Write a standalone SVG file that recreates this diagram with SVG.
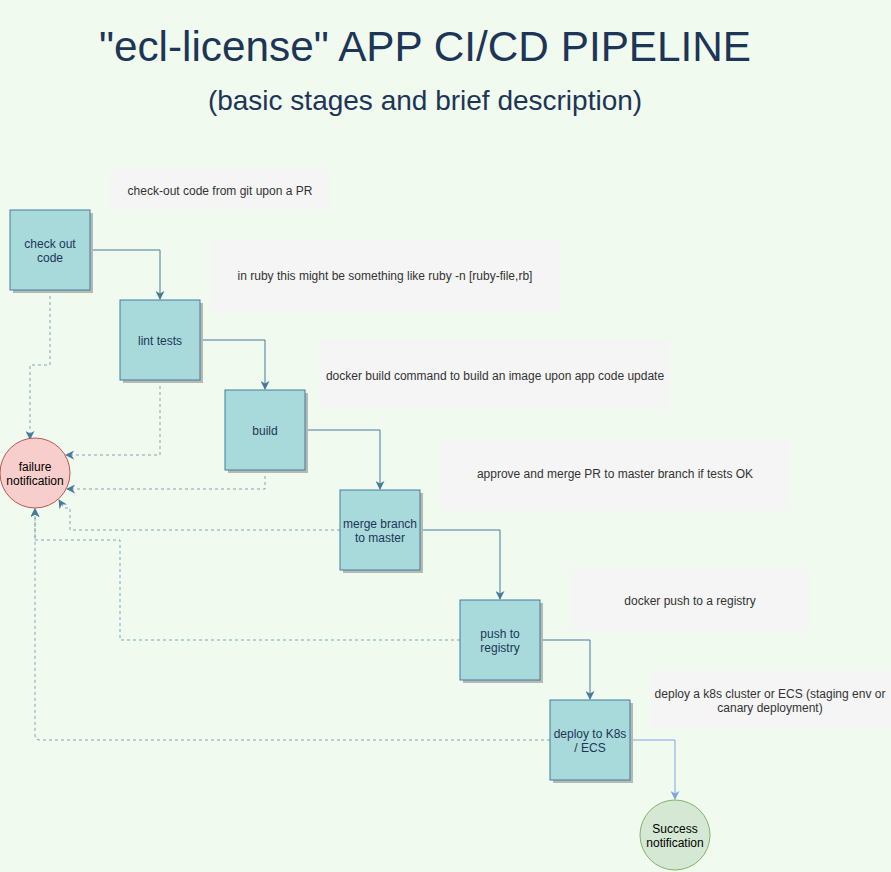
<svg xmlns="http://www.w3.org/2000/svg" width="891" height="872" viewBox="0 0 891 872">
<defs>
<style>
.t{font-family:"Liberation Sans",Arial,sans-serif;fill:#1D3557;text-anchor:middle}
.note rect{fill:#F5F5F5}
.note text{font-family:"Liberation Sans",Arial,sans-serif;font-size:12px;fill:#333333;text-anchor:middle}
.box .sh{fill:#B3B9B3}
.box .bx{fill:#A8DADC;stroke:#457B9D;stroke-width:1}
.box text{font-family:"Liberation Sans",Arial,sans-serif;font-size:12px;fill:#1D3557;text-anchor:middle}
.solid{fill:none;stroke:#457B9D;stroke-width:1}
.dash{fill:none;stroke:#457B9D;stroke-opacity:0.65;stroke-width:1;stroke-dasharray:3 3}
</style>
<marker id="a" viewBox="0 0 10 10" refX="9" refY="5" markerWidth="9" markerHeight="9" markerUnits="userSpaceOnUse" orient="auto"><path d="M0,0 L10,5 L0,10 L3,5 Z" fill="#457B9D"/></marker>
<marker id="a2" viewBox="0 0 10 10" refX="9" refY="5" markerWidth="9" markerHeight="9" markerUnits="userSpaceOnUse" orient="auto"><path d="M0,0 L10,5 L0,10 L3,5 Z" fill="#7EA6E0"/></marker>
</defs>
<rect width="891" height="872" fill="#F1FAEE"/>
<text class="t" x="425" y="61" font-size="42.3">"ecl-license" APP CI/CD PIPELINE</text>
<text class="t" x="425" y="110" font-size="28">(basic stages and brief description)</text>

<g id="note1" class="note"><rect x="110" y="170" width="220" height="40"/><text x="220" y="195">check-out code from git upon a PR</text></g>
<g id="note2" class="note"><rect x="210" y="240" width="350" height="70"/><text x="385" y="280">in ruby this might be something like ruby -n [ruby-file,rb]</text></g>
<g id="note3" class="note"><rect x="320" y="340" width="350" height="70"/><text x="495" y="380">docker build command to build an image upon app code update</text></g>
<g id="note4" class="note"><rect x="440" y="440" width="350" height="70"/><text x="615" y="478">approve and merge PR to master branch if tests OK</text></g>
<g id="note5" class="note"><rect x="570" y="570" width="240" height="60"/><text x="690" y="605">docker push to a registry</text></g>
<g id="note6" class="note"><rect x="650" y="670" width="241" height="60"/><text x="770" y="698">deploy a k8s cluster or ECS (staging env or</text><text x="770" y="712">canary deployment)</text></g>

<g id="connectors">
<path class="solid" d="M90,250 H160 V299" marker-end="url(#a)"/>
<path class="solid" d="M200,340 H265 V389" marker-end="url(#a)"/>
<path class="solid" d="M305,430 H380 V489" marker-end="url(#a)"/>
<path class="solid" d="M420,530 H500 V599" marker-end="url(#a)"/>
<path class="solid" d="M540,640 H590 V699" marker-end="url(#a)"/>
<path fill="none" stroke="#7EA6E0" d="M630,740 H675 V799" marker-end="url(#a2)"/>
<path class="dash" d="M50,290 V365 H30 V439" marker-end="url(#a)"/>
<path class="dash" d="M160,380 V455 H66" marker-end="url(#a)"/>
<path class="dash" d="M265,470 V489 H67" marker-end="url(#a)"/>
<path class="dash" d="M340,530 H70 V508 H64 L59,500" marker-end="url(#a)"/>
<path class="dash" d="M460,640 H120 V540 H35 V509" marker-end="url(#a)"/>
<path class="dash" d="M550,740 H40 Q35,740 35,735 V509" marker-end="url(#a)"/>
</g>

<g id="checkout" class="box"><rect class="sh" x="13" y="213" width="80" height="80"/><rect class="bx" x="10" y="210" width="80" height="80"/><text x="50" y="248">check out</text><text x="50" y="262">code</text></g>
<g id="lint" class="box"><rect class="sh" x="123" y="303" width="80" height="80"/><rect class="bx" x="120" y="300" width="80" height="80"/><text x="160" y="345">lint tests</text></g>
<g id="build" class="box"><rect class="sh" x="228" y="393" width="80" height="80"/><rect class="bx" x="225" y="390" width="80" height="80"/><text x="265" y="435">build</text></g>
<g id="merge" class="box"><rect class="sh" x="343" y="493" width="80" height="80"/><rect class="bx" x="340" y="490" width="80" height="80"/><text x="380" y="528">merge branch</text><text x="380" y="542">to master</text></g>
<g id="push" class="box"><rect class="sh" x="463" y="603" width="80" height="80"/><rect class="bx" x="460" y="600" width="80" height="80"/><text x="500" y="638">push to</text><text x="500" y="652">registry</text></g>
<g id="deploy" class="box"><rect class="sh" x="553" y="703" width="80" height="80"/><rect class="bx" x="550" y="700" width="80" height="80"/><text x="590" y="738">deploy to K8s</text><text x="590" y="752">/ ECS</text></g>

<g id="failure"><circle cx="35" cy="473" r="35" fill="#F8CECC" stroke="#B85450"/><text x="35" y="471" font-family="Liberation Sans,Arial,sans-serif" font-size="12" fill="#000" text-anchor="middle">failure</text><text x="35" y="485" font-family="Liberation Sans,Arial,sans-serif" font-size="12" fill="#000" text-anchor="middle">notification</text></g>
<g id="success"><circle cx="675" cy="835" r="35" fill="#D5E8D4" stroke="#82B366"/><text x="675" y="833" font-family="Liberation Sans,Arial,sans-serif" font-size="12" fill="#000" text-anchor="middle">Success</text><text x="675" y="847" font-family="Liberation Sans,Arial,sans-serif" font-size="12" fill="#000" text-anchor="middle">notification</text></g>
</svg>
